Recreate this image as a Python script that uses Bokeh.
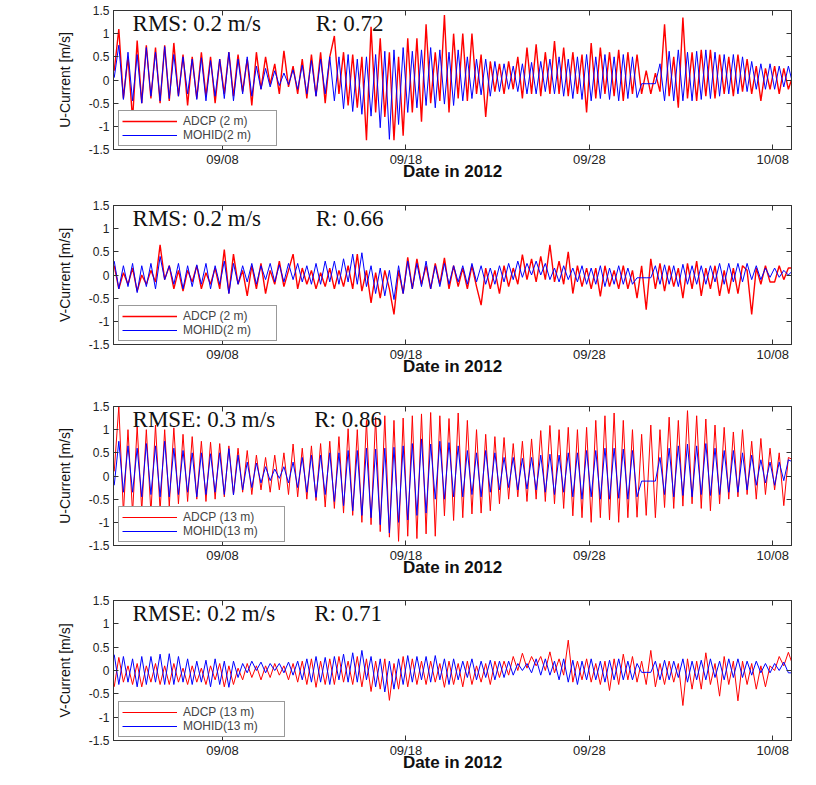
import numpy as np
from bokeh.plotting import figure
from bokeh.layouts import column
from bokeh.models import FixedTicker, LinearAxis, Label, Legend, LegendItem, Range1d
from bokeh.embed import file_html
from bokeh.resources import INLINE

# time axis: days after 2012-09-01 00:00 (so 09/08 -> 7), samples every 6 h
t_start = 1.1
t_step = 0.25
x_ticks = [7, 17, 27, 37]
x_tick_labels = ["09/08", "09/18", "09/28", "10/08"]
y_ticks = [-1.5, -1, -0.5, 0, 0.5, 1, 1.5]
y_tick_labels = ["-1.5", "-1", "-0.5", "0", "0.5", "1", "1.5"]

# ---- U-Current, 2 m ----
u2_adcp = [0.2, 1.1, -0.4, 0.5, -0.85, 0.85, -0.5, 0.75, -0.4, 0.7, -0.5, 0.75,
           -0.45, 0.8, -0.35, 0.55, -0.55, 0.5, -0.4, 0.6, -0.35, 0.5, -0.5, 0.45,
           -0.3, 0.6, -0.35, 0.55, -0.25, 0.45, -0.55, 0.6, -0.2, 0.5, -0.1, 0.35,
           -0.3, 0.63, -0.15, 0.3, -0.3, 0.45, -0.4, 0.55, -0.35, 0.6, -0.5, 0.5,
           0.95, -0.3, 0.6, -0.55, 0.55, -0.6, 0.5, -1.3, 1.15, -0.7, 0.9, -0.8,
           0.6, -1.3, 0.5, -1.2, 0.9, -0.7, 0.9, -0.9, 1.2, -0.5, 0.6, -0.45,
           1.4, -0.7, 1.0, -0.4, 1.0, -0.45, 1.0, -0.3, 0.55, -0.8, 0.4, -0.25,
           0.35, -0.3, 0.4, -0.2, 0.5, -0.4, 0.7, -0.3, 0.77, -0.35, 0.6, -0.3,
           0.84, -0.3, 0.7, -0.35, 0.6, -0.3, 0.55, -0.7, 0.8, -0.4, 0.7, -0.3,
           0.6, -0.35, 0.65, -0.45, 0.6, -0.3, 0.55, -0.3, 0.2, -0.3, 0.15, -0.25,
           1.2, -0.35, 0.5, -0.6, 1.35, -0.4, 0.6, -0.45, 0.65, -0.35, 0.65, -0.4,
           0.55, -0.3, 0.5, -0.35, 0.55, -0.25, 0.45, -0.3, 0.3, -0.45, 0.25, -0.2,
           0.3, -0.3, 0.25, -0.2, 0.1]
u2_mohid = [0.05, 0.75, -0.42, 0.6, -0.45, 0.55, -0.5, 0.7, -0.35, 0.6, -0.45, 0.72,
            -0.4, 0.55, -0.35, 0.5, -0.3, 0.45, -0.42, 0.48, -0.45, 0.42, -0.35, 0.45,
            -0.4, 0.6, -0.45, 0.45, -0.3, 0.5, -0.35, 0.3, -0.2, 0.25, -0.15, 0.2,
            -0.12, 0.15, -0.1, 0.22, -0.2, 0.32, -0.3, 0.42, -0.35, 0.45, -0.3, 0.5,
            -0.45, 0.5, -0.62, 0.55, -0.68, 0.45, -0.74, 0.5, -0.78, 0.55, -1.03, 0.62,
            -1.28, 0.65, -0.96, 0.7, -0.7, 0.62, -0.6, 0.65, -0.55, 0.7, -0.6, 0.65,
            -0.52, 0.6, -0.55, 0.65, -0.45, 0.5, -0.4, 0.45, -0.32, 0.45, -0.35, 0.4,
            -0.25, 0.35, -0.2, 0.3, -0.25, 0.35, -0.3, 0.38, -0.3, 0.4, -0.25, 0.45,
            -0.3, 0.5, -0.35, 0.45, -0.4, 0.5, -0.42, 0.55, -0.45, 0.5, -0.4, 0.55,
            -0.42, 0.5, -0.45, 0.55, -0.4, 0.5, -0.38, -0.08, -0.08, -0.08, -0.08, 0.35,
            -0.45, 0.62, -0.45, 0.65, -0.45, 0.6, -0.45, 0.62, -0.42, 0.65, -0.4, 0.6,
            -0.35, 0.55, -0.3, 0.55, -0.3, 0.5, -0.25, 0.4, -0.2, 0.35, -0.2, 0.35,
            -0.2, 0.3, -0.15, 0.3, -0.1]

# ---- V-Current, 2 m ----
v2_adcp = [0.2, -0.3, 0.05, -0.2, 0.15, -0.35, 0.0, -0.2, 0.1, -0.15, 0.65, -0.1,
           0.2, -0.3, 0.1, -0.35, 0.1, -0.15, 0.2, -0.3, 0.05, -0.2, 0.15, -0.3,
           0.55, -0.4, 0.45, -0.2, 0.1, -0.45, 0.2, -0.3, 0.25, -0.4, 0.1, -0.2,
           0.3, -0.25, 0.1, 0.45, -0.3, 0.15, -0.2, 0.1, -0.3, 0.05, -0.25, 0.15,
           -0.3, 0.1, -0.25, 0.2, -0.3, 0.45, -0.35, 0.1, -0.6, 0.05, -0.5, 0.1,
           -0.3, -0.85, 0.1, -0.4, 0.38, -0.3, 0.35, -0.2, 0.2, -0.3, 0.25, -0.2,
           0.37, -0.3, 0.2, -0.25, 0.15, -0.3, 0.2, -0.25, -0.65, 0.15, -0.3, 0.1,
           -0.4, 0.2, -0.25, 0.15, -0.2, 0.44, -0.1, 0.35, -0.15, 0.4, -0.1, 0.65,
           -0.15, 0.3, -0.2, 0.5, -0.4, 0.2, -0.25, 0.15, -0.3, 0.15, -0.46, 0.2,
           -0.25, 0.1, -0.3, 0.2, -0.3, 0.1, -0.5, 0.2, -0.75, 0.35, -0.3, 0.25,
           -0.35, 0.2, -0.25, 0.15, -0.5, 0.25, -0.3, 0.3, -0.45, 0.15, -0.3, 0.2,
           -0.45, 0.1, -0.4, 0.15, -0.4, 0.2, 0.1, -0.85, 0.15, -0.2, 0.2, -0.15,
           -0.15, 0.2, -0.1, 0.15, 0.15]
v2_mohid = [0.3, -0.3, 0.2, -0.25, 0.25, -0.38, 0.2, -0.25, 0.25, -0.3, 0.4, -0.1,
            0.2, -0.2, 0.25, -0.3, 0.2, -0.25, 0.22, -0.2, 0.25, -0.3, 0.2, -0.2,
            0.3, -0.4, 0.25, -0.2, 0.2, -0.15, 0.25, -0.2, 0.2, -0.1, 0.25, -0.15,
            0.22, -0.15, 0.25, -0.1, 0.25, -0.15, 0.2, -0.2, 0.25, -0.2, 0.3, -0.15,
            0.3, -0.2, 0.35, -0.15, 0.45, -0.2, 0.48, -0.25, 0.2, -0.4, 0.15, -0.45,
            0.1, -0.53, 0.2, -0.4, 0.3, -0.3, 0.25, -0.25, 0.3, -0.3, 0.2, -0.25,
            0.25, -0.2, 0.2, -0.15, 0.2, -0.2, 0.25, -0.15, 0.2, -0.2, 0.15, -0.2,
            0.2, -0.15, 0.25, -0.1, 0.3, -0.05, 0.25, 0.0, 0.3, 0.0, 0.25, -0.1,
            0.15, -0.15, 0.2, -0.1, 0.15, -0.15, 0.2, -0.2, 0.15, -0.2, 0.2, -0.25,
            0.15, -0.2, 0.2, -0.2, 0.15, -0.2, -0.06, -0.06, -0.06, -0.06, 0.2, -0.2,
            0.22, -0.2, 0.2, -0.25, 0.23, -0.2, 0.2, -0.2, 0.2, -0.2, 0.2, -0.15,
            0.25, -0.2, 0.25, -0.15, 0.25, -0.15, 0.25, -0.1, 0.2, -0.1, 0.15, -0.05,
            0.15, -0.05, 0.1, 0.0, 0.1]

# ---- U-Current, 13 m ----
u13_adcp = [0.1, 1.5, -0.8, 1.0, -0.8, 1.07, -0.75, 1.0, -0.8, 1.1, -0.75, 1.0,
            -0.65, 1.04, -0.6, 0.9, -0.55, 0.85, -0.5, 0.75, -0.55, 0.73, -0.5, 0.7,
            -0.45, 0.65, -0.4, 0.6, -0.35, 0.55, -0.4, 0.45, -0.3, 0.4, -0.35, 0.45,
            -0.3, 0.5, -0.4, 0.69, -0.45, 0.6, -0.5, 0.65, -0.53, 0.7, -0.67, 0.75,
            -0.7, 0.85, -0.8, 1.02, -0.85, 1.0, -1.0, 1.2, -1.05, 1.27, -1.2, 1.3,
            -1.32, 1.2, -1.41, 1.25, -1.3, 1.3, -1.35, 1.34, -1.25, 1.37, -1.3, 1.3,
            -0.86, 1.24, -0.96, 1.36, -0.9, 1.2, -0.82, 1.0, -0.8, 0.9, -0.75, 0.85,
            -0.6, 0.83, -0.5, 0.7, -0.45, 0.75, -0.55, 0.8, -0.5, 0.98, -0.55, 1.09,
            -0.6, 1.0, -0.7, 1.05, -0.86, 1.0, -0.9, 1.05, -1.0, 1.2, -0.9, 1.3,
            -0.95, 1.36, -1.0, 1.2, -0.9, 1.0, -0.89, 0.9, -0.85, 1.1, -0.9, 1.0,
            -0.68, 1.27, -0.7, 1.2, -0.65, 1.41, -0.6, 1.3, -0.7, 1.23, -0.75, 1.1,
            -0.6, 1.05, -0.5, 0.95, -0.45, 1.0, -0.4, 0.75, -0.5, 0.81, -0.4, 0.6,
            -0.3, 0.5, -0.64, 0.4, 0.35]
u13_mohid = [-0.2, 0.75, -0.35, 0.65, -0.35, 0.6, -0.45, 0.7, -0.4, 0.65, -0.45, 0.75,
             -0.45, 0.6, -0.4, 0.55, -0.35, 0.5, -0.45, 0.5, -0.4, 0.48, -0.35, 0.5,
             -0.4, 0.59, -0.41, 0.45, -0.3, 0.3, -0.25, 0.28, -0.15, 0.2, -0.1, 0.15,
             -0.05, 0.2, -0.15, 0.3, -0.25, 0.4, -0.35, 0.45, -0.46, 0.45, -0.4, 0.5,
             -0.55, 0.5, -0.64, 0.55, -0.75, 0.55, -0.85, 0.6, -0.9, 0.58, -1.05, 0.6,
             -1.23, 0.62, -1.0, 0.65, -0.95, 0.7, -0.85, 0.8, -0.8, 0.69, -0.5, 0.75,
             -0.5, 0.72, -0.45, 0.65, -0.45, 0.55, -0.4, 0.5, -0.45, 0.55, -0.35, 0.5,
             -0.3, 0.4, -0.25, 0.4, -0.3, 0.38, -0.28, 0.4, -0.3, 0.45, -0.35, 0.47,
             -0.4, 0.45, -0.35, 0.5, -0.45, 0.5, -0.5, 0.55, -0.45, 0.55, -0.5, 0.6,
             -0.5, 0.6, -0.48, 0.58, -0.5, 0.55, -0.45, -0.11, -0.11, -0.11, -0.11, 0.4,
             -0.4, 0.6, -0.45, 0.65, -0.42, 0.69, -0.45, 0.65, -0.4, 0.7, -0.42, 0.6,
             -0.4, 0.55, -0.35, 0.55, -0.35, 0.5, -0.3, 0.45, -0.2, 0.35, -0.15, 0.3,
             -0.2, 0.3, -0.1, 0.35, 0.3]

# ---- V-Current, 13 m ----
v13_adcp = [-0.35, 0.28, -0.25, 0.1, -0.3, 0.15, -0.35, 0.1, -0.25, 0.15, -0.3, 0.1,
            -0.3, 0.15, -0.25, 0.05, -0.3, 0.1, -0.25, 0.05, -0.3, 0.1, -0.2, 0.15,
            -0.35, 0.1, -0.3, 0.05, -0.2, 0.15, -0.15, 0.1, -0.2, 0.1, -0.15, 0.15,
            -0.1, 0.1, -0.2, 0.15, -0.25, 0.2, -0.3, 0.25, -0.36, 0.2, -0.3, 0.25,
            -0.3, 0.3, -0.25, 0.2, -0.3, 0.3, -0.35, 0.25, -0.45, 0.2, -0.4, 0.25,
            -0.64, 0.15, -0.4, 0.3, -0.35, 0.25, -0.3, 0.2, -0.3, 0.2, -0.25, 0.15,
            -0.36, 0.2, -0.3, 0.15, -0.35, 0.2, -0.3, 0.1, -0.25, 0.15, -0.3, 0.2,
            -0.15, 0.2, -0.1, 0.3, 0.0, 0.37, 0.05, 0.3, 0.1, 0.3, 0.0, 0.4,
            -0.05, 0.25, -0.1, 0.65, -0.25, 0.2, -0.2, 0.25, -0.25, 0.15, -0.3, 0.2,
            -0.43, 0.25, -0.3, 0.35, -0.2, 0.3, -0.25, 0.2, -0.3, 0.43, -0.35, 0.15,
            -0.3, 0.2, -0.25, 0.15, -0.75, 0.25, -0.4, 0.2, -0.4, 0.38, -0.3, 0.15,
            -0.55, 0.3, -0.3, 0.2, -0.65, 0.2, -0.3, 0.15, -0.4, 0.1, -0.35, 0.1,
            0.0, 0.3, 0.1, 0.39, 0.1]
v13_mohid = [0.34, -0.3, 0.3, -0.25, 0.25, -0.35, 0.3, -0.3, 0.3, -0.25, 0.35, -0.3,
             0.36, -0.3, 0.3, -0.25, 0.25, -0.3, 0.2, -0.25, 0.22, -0.35, 0.25, -0.3,
             0.2, -0.36, 0.2, -0.15, 0.15, -0.05, 0.2, 0.0, 0.18, -0.05, 0.15, 0.0,
             0.15, -0.05, 0.18, -0.1, 0.2, -0.2, 0.25, -0.25, 0.3, -0.25, 0.28, -0.3,
             0.3, -0.2, 0.35, -0.25, 0.38, -0.25, 0.43, -0.2, 0.3, -0.35, 0.25, -0.46,
             0.2, -0.4, 0.25, -0.3, 0.32, -0.25, 0.3, -0.2, 0.3, -0.25, 0.32, -0.2,
             0.25, -0.3, 0.25, -0.2, 0.2, -0.15, 0.25, -0.2, 0.2, -0.15, 0.22, -0.2,
             0.2, -0.15, 0.2, -0.1, 0.15, 0.0, 0.15, -0.05, 0.25, -0.1, 0.25, -0.1,
             0.2, -0.2, 0.25, -0.25, 0.22, -0.3, 0.2, -0.2, 0.25, -0.2, 0.2, -0.25,
             0.22, -0.2, 0.25, -0.2, 0.2, -0.2, 0.15, -0.04, -0.04, -0.04, 0.2, -0.2,
             0.22, -0.2, 0.2, -0.15, 0.25, -0.25, 0.2, -0.2, 0.22, -0.2, 0.25, -0.15,
             0.2, -0.2, 0.25, -0.15, 0.25, -0.15, 0.2, -0.1, 0.2, -0.05, 0.15, -0.05,
             0.15, 0.0, 0.18, -0.05, -0.05]

panels = [
    dict(adcp=u2_adcp, mohid=u2_mohid, ylabel="U-Current [m/s]",
         lab_a="ADCP (2 m)", lab_m="MOHID(2 m)", s1="RMS: 0.2 m/s", s2="R: 0.72",
         top=10, fh=139, bottom=47, lw=90, rx=12.08, rw=1.4),
    dict(adcp=v2_adcp, mohid=v2_mohid, ylabel="V-Current [m/s]",
         lab_a="ADCP (2 m)", lab_m="MOHID(2 m)", s1="RMS: 0.2 m/s", s2="R: 0.66",
         top=9, fh=139, bottom=52, lw=90, rx=12.08, rw=1.4),
    dict(adcp=u13_adcp, mohid=u13_mohid, ylabel="U-Current [m/s]",
         lab_a="ADCP (13 m)", lab_m="MOHID(13 m)", s1="RMSE: 0.3 m/s", s2="R: 0.86",
         top=10, fh=139, bottom=47, lw=98, rx=12.0, rw=1.0),
    dict(adcp=v13_adcp, mohid=v13_mohid, ylabel="V-Current [m/s]",
         lab_a="ADCP (13 m)", lab_m="MOHID(13 m)", s1="RMSE: 0.2 m/s", s2="R: 0.71",
         top=8, fh=140, bottom=37, lw=98, rx=12.0, rw=1.0),
]

SANS = "Liberation Sans"
SERIF = "Liberation Serif"
AX = "#333333"
xt_over = {k: v for k, v in zip(x_ticks, x_tick_labels)}
yt_over = {k: v for k, v in zip(y_ticks, y_tick_labels)}


def style_axis(ax, ticks, over=None, show_labels=True):
    ax.ticker = FixedTicker(ticks=ticks, minor_ticks=[])
    ax.major_tick_in = 5
    ax.major_tick_out = 0
    ax.minor_tick_in = 0
    ax.minor_tick_out = 0
    ax.axis_line_color = AX
    ax.major_tick_line_color = AX
    if show_labels:
        ax.major_label_overrides = over
        ax.major_label_text_font = SANS
        ax.major_label_text_color = "#222222"
    else:
        ax.major_label_text_color = None
        ax.major_label_standoff = 0


figs = []
for P in panels:
    n = len(P["adcp"])
    t = t_start + t_step * np.arange(n)
    p = figure(frame_width=678, frame_height=P["fh"], output_backend="svg", toolbar_location=None,
               x_range=Range1d(1.06, 38.02), y_range=Range1d(-1.5, 1.5),
               min_border_left=113, min_border_right=17,
               min_border_top=P["top"], min_border_bottom=P["bottom"])
    p.grid.visible = False
    p.outline_line_color = AX
    p.outline_line_width = 1
    p.background_fill_color = "white"
    p.border_fill_color = "white"

    style_axis(p.xaxis[0], x_ticks, xt_over)
    p.xaxis.major_label_text_font_size = "13px"
    p.xaxis.major_label_standoff = 2
    p.xaxis.axis_label = "Date in 2012"
    p.xaxis.axis_label_text_font = SANS
    p.xaxis.axis_label_text_font_style = "bold"
    p.xaxis.axis_label_text_font_size = "17px"
    p.xaxis.axis_label_text_color = "#111111"
    p.xaxis.axis_label_standoff = -8

    style_axis(p.yaxis[0], y_ticks, yt_over)
    p.yaxis.major_label_text_font_size = "12px"
    p.yaxis.major_label_standoff = 4
    p.yaxis.axis_label = P["ylabel"]
    p.yaxis.axis_label_text_font = SANS
    p.yaxis.axis_label_text_font_style = "normal"
    p.yaxis.axis_label_text_font_size = "14px"
    p.yaxis.axis_label_text_color = "#111111"
    p.yaxis.axis_label_standoff = 13

    ra = LinearAxis()
    style_axis(ra, y_ticks, show_labels=False)
    p.add_layout(ra, "right")
    ta = LinearAxis()
    style_axis(ta, x_ticks, show_labels=False)
    p.add_layout(ta, "above")

    r_a = p.line(t, P["adcp"], line_color="#ff0000", line_width=P["rw"])
    r_m = p.line(t, P["mohid"], line_color="#0000ff", line_width=1)

    for txt, x in ((P["s1"], 2.1), (P["s2"], P["rx"])):
        p.add_layout(Label(x=x, y=1.22, text=txt, text_font=SERIF, text_font_size="23px",
                           text_baseline="alphabetic", text_color="#111111"))

    leg = Legend(items=[LegendItem(label=P["lab_a"], renderers=[r_a]),
                        LegendItem(label=P["lab_m"], renderers=[r_m])],
                 location=(5, 3), orientation="vertical",
                 label_text_font=SANS, label_text_font_size="12px",
                 glyph_width=55, glyph_height=12, label_height=12, label_width=P["lw"],
                 label_standoff=6, padding=3, spacing=0, margin=0,
                 border_line_color=AX, border_line_width=1,
                 background_fill_color="white", background_fill_alpha=1.0)
    p.add_layout(leg)
    figs.append(p)

layout = column(*figs, spacing=0)
open("out.html", "w").write(file_html(layout, INLINE))
